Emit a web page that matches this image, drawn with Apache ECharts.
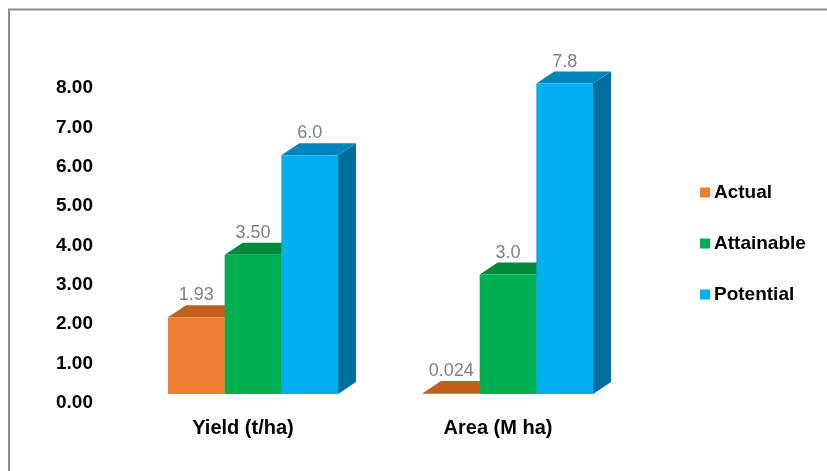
<!DOCTYPE html>
<html lang="en">
<head>
    <meta charset="UTF-8">
    <title>Yield gap</title>
    <script src="https://cdn.jsdelivr.net/npm/echarts@6/dist/echarts.min.js"></script>
    <style>
        html, body { margin: 0; padding: 0; background: #fff; }
        #main { width: 827px; height: 471px; }
    </style>
</head>
<body>
<div id="main"></div>
<script>
    var categories = ['Yield (t/ha)', 'Area (M ha)'];
    var seriesNames = ['Actual', 'Attainable', 'Potential'];
    var actual = [1.93, 0.024];
    var attainable = [3.50, 3.0];
    var potential = [6.0, 7.8];
    var actualLabels = ['1.93', '0.024'];
    var attainableLabels = ['3.50', '3.0'];
    var potentialLabels = ['6.0', '7.8'];
    var yTicks = [0, 1, 2, 3, 4, 5, 6, 7, 8];

    // front / top / side colours for each series
    var palette = [
        ['#ED7D31', '#C0601F', '#A9521A'],
        ['#00B050', '#008A3E', '#007434'],
        ['#00B0F0', '#0085BB', '#006E9C']
    ];

    var depthX = 18, depthY = 12;

    function bar3d(idx, labels) {
        return function (params, api) {
            var cat = api.value(0);
            var val = api.value(1);
            var base = api.coord([cat, 0]);
            var top = api.coord([cat, val]);
            var band = api.size([1, 0])[0];
            var w = band * 0.2222;
            var x0 = base[0] - 1.5 * w + idx * w;
            var yb = base[1], yt = top[1];
            var c = palette[idx];
            return {
                type: 'group',
                children: [
                    {
                        type: 'polygon',
                        shape: {points: [[x0 + w, yt], [x0 + w + depthX, yt - depthY], [x0 + w + depthX, yb - depthY], [x0 + w, yb]]},
                        style: {fill: c[2]}
                    },
                    {
                        type: 'polygon',
                        shape: {points: [[x0, yt], [x0 + w, yt], [x0 + w + depthX, yt - depthY], [x0 + depthX, yt - depthY]]},
                        style: {fill: c[1]}
                    },
                    {
                        type: 'rect',
                        shape: {x: x0, y: yt, width: w, height: yb - yt},
                        style: {fill: c[0]}
                    },
                    {
                        type: 'text',
                        style: {
                            x: x0 + w / 2,
                            y: yt - 22,
                            text: labels[params.dataIndex],
                            align: 'center',
                            verticalAlign: 'middle',
                            fill: '#7F7F7F',
                            font: '18px "Liberation Sans", Arial, sans-serif'
                        }
                    }
                ]
            };
        };
    }

    var seriesData = [actual, attainable, potential];
    var seriesLabels = [actualLabels, attainableLabels, potentialLabels];
    var series = [];
    for (var i = 0; i < 3; i++) {
        series.push({
            name: seriesNames[i],
            type: 'custom',
            xAxisIndex: 1,
            yAxisIndex: 1,
            itemStyle: {color: palette[i][0]},
            renderItem: bar3d(i, seriesLabels[i]),
            data: seriesData[i].map(function (v, k) { return [k, v]; })
        });
    }

    var myChart = echarts.init(document.getElementById('main'));

    function boldFont(size) {
        return {
            color: '#000',
            fontFamily: '"Liberation Sans", Arial, sans-serif',
            fontWeight: 'bold',
            fontSize: size
        };
    }

    var option = {
        animation: false,
        backgroundColor: '#fff',
        graphic: [{
            type: 'rect',
            shape: {x: 9, y: 9.5, width: 900, height: 500},
            style: {fill: 'none', stroke: '#8C8C8C', lineWidth: 2},
            silent: true
        }],
        legend: {
            orient: 'vertical',
            left: 700,
            top: 183,
            padding: 0,
            icon: 'rect',
            itemWidth: 10,
            itemHeight: 10,
            itemGap: 32,
            data: seriesNames,
            textStyle: Object.assign({lineHeight: 18, padding: [0, 0, 0, -1]}, boldFont(19))
        },
        grid: [
            // grid holding the value labels (back wall)
            {left: 101, right: 191, top: 88, bottom: 68},
            // grid for the bar fronts
            {left: 125.5, right: 191.5, top: 75.6, bottom: 77}
        ],
        xAxis: [
            {gridIndex: 0, type: 'category', data: categories, show: false},
            {
                gridIndex: 1,
                type: 'category',
                data: categories,
                axisLine: {show: false},
                axisTick: {show: false},
                axisLabel: Object.assign({margin: 24, padding: [0, 20, 0, 0]}, boldFont(20))
            }
        ],
        yAxis: [
            {
                gridIndex: 0,
                type: 'value',
                min: yTicks[0],
                max: yTicks[yTicks.length - 1],
                interval: 1,
                axisLine: {show: false},
                axisTick: {show: false},
                splitLine: {show: false},
                axisLabel: Object.assign({
                    margin: 8,
                    formatter: function (v) { return v.toFixed(2); }
                }, boldFont(19))
            },
            {
                gridIndex: 1,
                type: 'value',
                min: 0,
                max: 8,
                show: false,
                splitLine: {show: false}
            }
        ],
        series: series
    };

    myChart.setOption(option);
</script>
</body>
</html>
